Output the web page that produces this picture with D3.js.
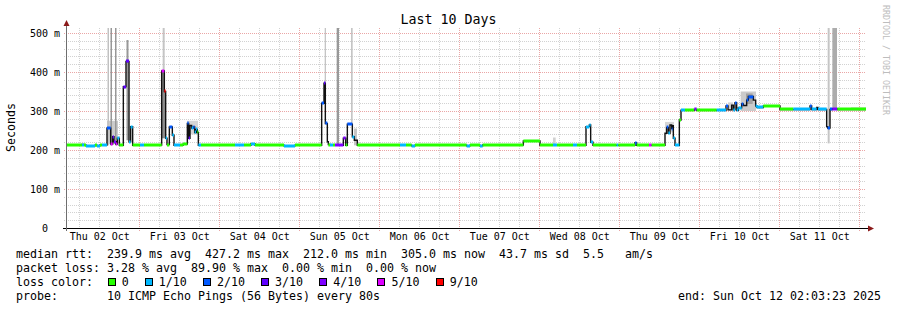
<!DOCTYPE html>
<html><head><meta charset="utf-8">
<script src="https://cdn.jsdelivr.net/npm/d3@7/dist/d3.min.js"></script>
<style>
html,body{margin:0;padding:0;background:#fff;}
svg{display:block;}
text{font-family:"DejaVu Sans Mono",monospace;white-space:pre;}
</style></head><body>
<svg id="chart" width="897" height="310"></svg>
<script>
// ---------------- data ----------------
const chartTitle = "Last 10 Days";
const yAxisTitle = "Seconds";
const watermark = "RRDTOOL / TOBI OETIKER";
const endTime = new Date(2025, 9, 12, 2, 3, 23);
const spanHours = 240;
const yMax = 512.82; // ms
const yTicks = [0, 100, 200, 300, 400, 500];
const yTickLabels = ["0", "100 m", "200 m", "300 m", "400 m", "500 m"];
const dayLabels = ["Thu 02 Oct", "Fri 03 Oct", "Sat 04 Oct", "Sun 05 Oct", "Mon 06 Oct",
                   "Tue 07 Oct", "Wed 08 Oct", "Thu 09 Oct", "Fri 10 Oct", "Sat 11 Oct"];

// median rtt steps: start hour (since graph start), median (ms), loss (x/10, null = no colour)
const medHours = [
  0, 4.8, 5.4, 6.0, 8.7, 9.3, 10.2, 10.8, 12.3, 13.4,
  14.0, 14.4, 15.0, 15.4, 16.0, 17.2, 18.0, 18.9, 19.4, 20.0,
  22.2, 23.4, 28.7, 29.5, 29.9, 30.3, 31.0, 31.9, 32.4, 34.2,
  35.1, 36.4, 36.8, 37.2, 37.7, 38.2, 38.6, 39.0, 39.4, 39.7,
  40.5, 50.7, 53.4, 55.5, 56.7, 65.4, 68.7, 76.7, 77.4, 77.8,
  78.4, 78.7, 79.2, 80.1, 80.7, 83.2, 83.9, 84.4, 85.9, 86.5,
  87.4, 100.2, 102.0, 103.7, 104.7, 120.2, 121.2, 124.2, 125.0, 137.2,
  142.2, 146.1, 147.3, 152.1, 153.3, 156.0, 157.0, 157.4, 158.1, 165.2,
  165.7, 170.7, 171.2, 174.9, 175.7, 179.7, 180.2, 180.7, 181.2, 181.7,
  182.0, 182.2, 182.7, 184.0, 184.5, 185.7, 188.5, 189.2, 195.2, 198.0,
  198.6, 199.7, 200.2, 200.7, 201.2, 201.7, 202.7, 203.2, 204.2, 204.7,
  206.2, 206.9, 207.3, 209.2, 214.2, 218.2, 223.2, 223.7, 225.2, 225.6,
  228.2, 228.5, 229.2, 229.9, 231.4
];
const medValues = [
  213, 214, 213, 211, 212, 211, 213, 213, 256, 215,
  234, 221, 215, 230, 212, 362, 427, 221, 260, 212,
  212, 213, 403, 350, 230, 214, 259, 238, 212, 212,
  215, 268, 230, 263, 256, 259, 245, 253, 245, 212,
  212, 213, 212, 216, 212, 211, 212, 320, 371, 268,
  221, 214, 212, 213, 212, 230, 212, 266, 234, 225,
  212, 212, 212, 211, 212, 211, 212, 211, 213, 223,
  212, 212, 213, 212, 212, 260, 264, 220, 212, 212,
  212, 219, 212, 212, 212, 243, 258, 243, 264, 255,
  262, 230, 212, 277, 302, 302, 304, 302, 302, 313,
  303, 315, 303, 321, 302, 308, 318, 314, 328, 337,
  328, 313, 309, 313, 304, 304, 313, 304, 309, 304,
  260, 256, 304, 306, 304
];
const medLoss = [
  0, 1, 0, 1, 0, 1, 0, 1, 2, 5,
  3, 4, 5, 1, 0, 3, 3, 1, 1, 0,
  1, 0, 5, 9, 1, 0, 2, 1, 1, 0,
  0, 2, 3, null, 1, 2, 1, 1, 0, 1,
  0, 1, 0, 1, 0, 1, 0, 2, 3, 2,
  null, 0, 1, 0, 4, 4, 0, 2, 1, null,
  0, 1, 0, 1, 0, 1, 0, 1, 0, 0,
  0, 1, 0, 1, 0, 1, 1, 1, 0, 1,
  0, 2, 0, 5, 0, null, 2, 1, null, 2,
  null, 1, 1, 0, 1, 0, 4, 0, 1, 2,
  null, null, 1, 2, 1, 1, 2, null, 2, 2,
  null, 1, 1, 0, 0, 1, 2, 1, null, 1,
  null, 2, 2, 4, 0
];

// smoke (ping spread): from/to hour, low/high ms, density
const smokeFrom    = [12.45, 13.35, 14.7, 12.3, 18.15, 28.65, 29.0, 36.3, 77.6, 81.2, 85.5, 86.4, 146.1, 179.7, 198.6, 202.4, 204.0, 228.5, 229.9, 235.5];
const smokeTo      = [12.9, 13.8, 15.15, 15.6, 18.75, 29.7, 29.6, 39.6, 78.0, 81.9, 86.0, 87.3, 146.9, 182.4, 200.1, 207.0, 206.0, 229.1, 231.3, 240];
const smokeLow     = [212, 212, 212, 215, 225, 230, 400, 240, 371, 212, 266, 212, 212, 245, 300, 300, 318, 217, 304, 303];
const smokeHigh    = [515, 515, 515, 275, 482, 405, 515, 275, 515, 515, 515, 255, 232, 272, 322, 350, 345, 515, 515, 310];
const smokeDensity = [0.3, 0.5, 0.5, 0.25, 0.5, 0.55, 0.28, 0.2, 0.28, 0.5, 0.28, 0.28, 0.22, 0.2, 0.22, 0.25, 0.45, 0.28, 0.4, 0.15];

const lossLevels = [0, 1, 2, 3, 4, 5, 9];
const lossLabels = ["0", "1/10", "2/10", "3/10", "4/10", "5/10", "9/10"];
const lossColors = ["#26ff00", "#00b8ff", "#0059ff", "#5e00ff", "#7e00ff", "#dd00ff", "#ff0000"];

const rttStats  = ["239.9 ms avg", "427.2 ms max", "212.0 ms min", "305.0 ms now", "43.7 ms sd", "5.5   am/s"];
const lossStats = ["3.28 % avg", "89.90 % max", "0.00 % min", "0.00 % now"];
const probeText = "10 ICMP Echo Pings (56 Bytes) every 80s";
const endText = "end: Sun Oct 12 02:03:23 2025";

// ---------------- layout ----------------
const W = 897, H = 310;
const L = 66, R = 866, T = 28, B = 228;
const CH = 7.05;           // legend char advance
const legendFont = 11.63, axisFont = 9.97, titleFont = 13.3;

const svg = d3.select("#chart");
svg.append("rect").attr("width", W).attr("height", H).attr("fill", "#fff");

const start = new Date(endTime.getTime() - spanHours * 3600e3);
const at = h => new Date(start.getTime() + h * 3600e3);
const x = d3.scaleTime().domain([start, endTime]).range([L, R]);
const y = d3.scaleLinear().domain([0, yMax]).range([B, T]);
const px = v => Math.round(v) + 0.5;

svg.append("defs").append("clipPath").attr("id", "plot")
  .append("rect").attr("x", L).attr("y", T).attr("width", R - L).attr("height", B - T);

// ---------------- grid ----------------
const grid = svg.append("g");
const minorY = d3.range(20, yMax, 20).filter(v => v % 100 !== 0);
const majorY = d3.range(100, yMax, 100);
const minorX = d3.timeHour.every(6).range(start, endTime).filter(d => d.getHours() !== 0);
const majorX = d3.timeDay.range(start, endTime);

grid.selectAll(".gy").data(minorY).join("line")
  .attr("x1", L - 2).attr("x2", R).attr("y1", d => px(y(d))).attr("y2", d => px(y(d)))
  .attr("stroke", "#d2d2d2").attr("stroke-dasharray", "1,1");
grid.selectAll(".gx").data(minorX).join("line")
  .attr("y1", T).attr("y2", B + 2).attr("x1", d => px(x(d))).attr("x2", d => px(x(d)))
  .attr("stroke", "#d2d2d2").attr("stroke-dasharray", "1,1");
grid.selectAll(".my").data(majorY).join("line")
  .attr("x1", L - 2).attr("x2", R).attr("y1", d => px(y(d))).attr("y2", d => px(y(d)))
  .attr("stroke", "#eaa6a6").attr("stroke-dasharray", "1,1");
grid.selectAll(".mx").data(majorX).join("line")
  .attr("y1", T).attr("y2", B + 3).attr("x1", d => px(x(d))).attr("x2", d => px(x(d)))
  .attr("stroke", "#eaa6a6").attr("stroke-dasharray", "1,1");

// ---------------- smoke ----------------
const plot = svg.append("g").attr("clip-path", "url(#plot)");
const grey = d3.scaleLinear().domain([0, 1]).range(["#ffffff", "#303030"]);
const smoke = d3.range(smokeFrom.length).sort((a, b) => smokeDensity[a] - smokeDensity[b]);
plot.selectAll(".smoke").data(smoke).join("rect")
  .attr("x", i => x(at(smokeFrom[i])))
  .attr("width", i => Math.max(1, x(at(smokeTo[i])) - x(at(smokeFrom[i]))))
  .attr("y", i => y(smokeHigh[i]))
  .attr("height", i => y(smokeLow[i]) - y(smokeHigh[i]))
  .attr("fill", i => grey(smokeDensity[i]));

// ---------------- median ----------------
const pts = medHours.map((h, i) => [at(h), medValues[i]]);
pts.push([endTime, medValues[medValues.length - 1]]);
const line = d3.line().x(d => x(d[0])).y(d => y(d[1])).curve(d3.curveStepAfter);
plot.append("path").attr("d", line(pts)).attr("fill", "none")
  .attr("stroke", "#111").attr("stroke-width", 1.4);

const lossColor = k => lossColors[lossLevels.indexOf(k)];
const steps = d3.range(medHours.length).filter(i => medLoss[i] !== null);
plot.selectAll(".band").data(steps).join("rect")
  .attr("x", i => x(at(medHours[i])))
  .attr("width", i => x(at(i + 1 < medHours.length ? medHours[i + 1] : spanHours)) - x(at(medHours[i])))
  .attr("y", i => Math.round(y(medValues[i])) - 1.5)
  .attr("height", 3)
  .attr("fill", i => lossColor(medLoss[i]));

// ---------------- axes ----------------
svg.append("line").attr("x1", L - 3).attr("x2", R + 4).attr("y1", B + 0.5).attr("y2", B + 0.5)
  .attr("stroke", "#000");
svg.append("line").attr("x1", L + 0.5).attr("x2", L + 0.5).attr("y1", B + 3).attr("y2", T - 4)
  .attr("stroke", "#6e6e6e");
svg.append("path").attr("d", `M${L + 0.5},${T - 8} L${L - 2.5},${T - 2} L${L + 3.5},${T - 2} Z`).attr("fill", "#8b1a1a");
svg.append("path").attr("d", `M${R + 8},${B + 0.5} L${R + 2},${B - 2.5} L${R + 2},${B + 3.5} Z`).attr("fill", "#8b1a1a");

const yAxis = d3.axisLeft(y).tickValues(yTicks).tickSize(0).tickPadding(6)
  .tickFormat((d, i) => yTickLabels[i] + (yTickLabels[i].includes(" ") ? "" : "\u00a0\u00a0"));
const gy = svg.append("g").attr("transform", `translate(${L},0.5)`).call(yAxis);
gy.select(".domain").remove();
gy.selectAll("text").attr("font-family", "DejaVu Sans Mono").attr("font-size", axisFont).attr("fill", "#000");

const labelDates = dayLabels.map((_, i) => d3.timeHour.offset(d3.timeDay.offset(d3.timeDay.floor(start), i), 12));
const xAxis = d3.axisBottom(x).tickValues(labelDates).tickSize(0).tickPadding(5)
  .tickFormat((d, i) => dayLabels[i]);
const gx = svg.append("g").attr("transform", `translate(0,${B})`).call(xAxis);
gx.select(".domain").remove();
gx.selectAll("text").attr("font-family", "DejaVu Sans Mono").attr("font-size", axisFont).attr("fill", "#000");

// ---------------- titles ----------------
svg.append("text").attr("x", W / 2).attr("y", 24).attr("text-anchor", "middle")
  .attr("font-size", titleFont).text(chartTitle);
svg.append("text").attr("transform", "translate(15,127.5) rotate(-90)").attr("text-anchor", "middle")
  .attr("font-size", legendFont).text(yAxisTitle);
svg.append("text").attr("transform", "translate(883,60) rotate(90)").attr("text-anchor", "middle")
  .attr("font-size", 8.3).attr("fill", "#bdbdbd").text(watermark);

// ---------------- legend ----------------
const lx = 16;
const lines = [
  "median rtt:  " + rttStats.join("  "),
  "packet loss: " + lossStats.join("  "),
  "loss color:",
  "probe:       " + probeText
];
const baselines = [258, 272, 286, 300];
svg.selectAll(".leg").data(lines).join("text")
  .attr("x", lx).attr("y", (d, i) => baselines[i]).attr("font-size", legendFont).text(d => d);

let cur = lx + 13 * CH;
lossLabels.forEach((lab, i) => {
  svg.append("rect").attr("x", Math.round(cur) + 0.5).attr("y", baselines[2] - 7.5)
    .attr("width", 7).attr("height", 7).attr("fill", lossColors[i]).attr("stroke", "#000");
  svg.append("text").attr("x", cur + 14).attr("y", baselines[2]).attr("font-size", legendFont).text(lab);
  cur += 14 + lab.length * CH + 16;
});
svg.append("text").attr("x", 881).attr("y", baselines[3]).attr("text-anchor", "end")
  .attr("font-size", legendFont).text(endText);
</script>
</body></html>
